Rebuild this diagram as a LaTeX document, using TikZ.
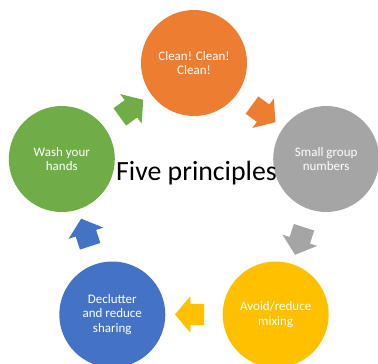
\documentclass[tikz,border=0pt]{standalone}
\usepackage{fontspec}
\setmainfont{Carlito}
\usetikzlibrary{shapes.arrows}
\definecolor{cOrange}{HTML}{ED7D31}
\definecolor{cGray}{HTML}{A5A5A5}
\definecolor{cYellow}{HTML}{FFC000}
\definecolor{cBlue}{HTML}{4472C4}
\definecolor{cGreen}{HTML}{70AD47}
\begin{document}
\begin{tikzpicture}[x=1pt,y=-1pt,
  circ/.style={circle, minimum size=106pt, inner sep=0pt, text=white,
    font=\fontsize{13}{14.3}\selectfont, align=center, fill=#1},
  arr/.style={single arrow, draw=none, fill=#1, minimum width=36pt,
    minimum height=29pt, single arrow head extend=7.5pt, inner xsep=0pt, inner ysep=10.5pt,
    single arrow tip angle=100, sloped, allow upside down}]
\useasboundingbox (0,0) rectangle (378,364);
\clip (0,0) rectangle (378,364);
\node[circ=cOrange] (orange) at (194,63) {Clean! Clean!\\Clean!};
\node[circ=cGray] (gray) at (326.2,159) {Small group\\numbers};
\node[circ=cYellow] (yellow) at (275.7,314.5) {Avoid/reduce\\mixing};
\node[circ=cBlue] (blue) at (112.3,314.5) {Declutter\\and reduce\\sharing};
\node[circ=cGreen] (green) at (61.8,159) {Wash your\\hands};
\path (orange.center) -- node[arr=cOrange] {} (gray.center);
\path (gray.center) -- node[arr=cGray] {} (yellow.center);
\path (yellow.center) -- node[arr=cYellow] {} (blue.center);
\path (blue.center) -- node[arr=cBlue] {} (green.center);
\path (green.center) -- node[arr=cGreen] {} (orange.center);
\node[anchor=base, font=\fontsize{27.8}{32}\selectfont, inner sep=0pt] (title) at (196.5,180) {Five principles};
\end{tikzpicture}
\end{document}
